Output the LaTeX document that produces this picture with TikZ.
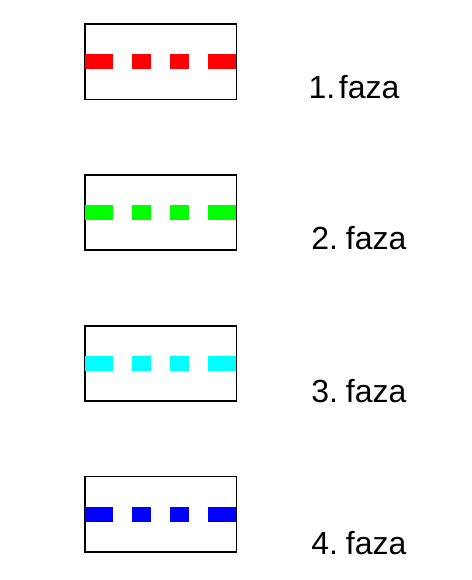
\documentclass[tikz,border=0pt]{standalone}
\usepackage{fontspec}
\setmainfont{Liberation Sans}
\definecolor{pRed}{RGB}{255,0,0}
\definecolor{pGreen}{RGB}{0,255,0}
\definecolor{pCyan}{RGB}{0,255,255}
\definecolor{pBlue}{RGB}{0,0,255}
\begin{document}
\begin{tikzpicture}[x=1pt,y=-1pt,
  phasebox/.style={draw=black,line width=1.5pt,minimum width=151.7pt,minimum height=75.3pt,inner sep=0pt,outer sep=0pt},
  phasedash/.style={line width=15pt,dash pattern=on 28pt off 19pt on 19pt off 19pt on 19pt off 19pt on 28pt},
  label/.style={anchor=base west,inner sep=0pt,font=\fontsize{32}{38}\selectfont}]
\useasboundingbox (0,0) rectangle (471,580);
\foreach \i/\c in {0/pRed,1/pGreen,2/pCyan,3/pBlue}{
  \pgfmathsetmacro{\yy}{61.65+150.9*\i}
  \node[phasebox] (b\i) at (160.85,\yy) {};
  \draw[phasedash,draw=\c] (b\i.west) -- (b\i.east);
}
\node[label] (t0) at (308.5,99) {1.\hspace{3.5pt}faza};
\node[label] (t1) at (311.2,249.5) {2.\hspace{7.9pt}faza};
\node[label] (t2) at (311.2,402.5) {3.\hspace{7.9pt}faza};
\node[label] (t3) at (311.2,554) {4.\hspace{7.9pt}faza};
\end{tikzpicture}
\end{document}
